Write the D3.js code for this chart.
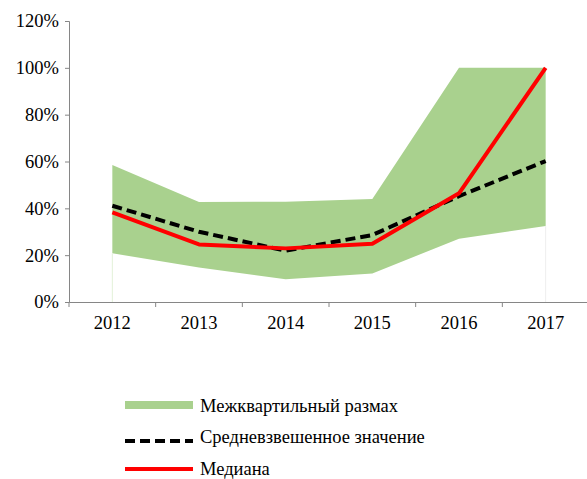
<!DOCTYPE html>
<html>
<head>
<meta charset="utf-8">
<script src="https://cdn.jsdelivr.net/npm/d3@7"></script>
<style>
  body { margin: 0; background: #fff; }
</style>
</head>
<body>
<svg id="chart" width="587" height="479"></svg>
<script>
// Years and summary statistics (share, 0..1)
const years = ["2012", "2013", "2014", "2015", "2016", "2017"];
const q1 = [0.208, 0.147, 0.097, 0.122, 0.27, 0.325];
const q3 = [0.585, 0.427, 0.428, 0.44, 1.0, 1.0];
const weightedMean = [0.411, 0.30, 0.219, 0.286, 0.452, 0.602];
const median = [0.383, 0.246, 0.229, 0.249, 0.464, 1.0];
const yTicks = [0, 0.2, 0.4, 0.6, 0.8, 1.0, 1.2];
const legendLabels = ["Межквартильный размах", "Средневзвешенное значение", "Медиана"];

const GREEN = "#a9d18e";
const FONT = '"Liberation Serif"';
const svg = d3.select("#chart");
const left = 69;

const x = d3.scaleBand().domain(years).range([left, 589]);
const y = d3.scaleLinear().domain([0, 1.2]).range([302, 21]);
const cx = d => x(d) + x.bandwidth() / 2;

// interquartile band
const band = years.map((yr, i) => ({ yr, lo: q1[i], hi: q3[i] }));
svg.append("path")
  .datum(band)
  .attr("fill", GREEN)
  .attr("d", d3.area().x(d => cx(d.yr)).y0(d => y(d.lo)).y1(d => y(d.hi)));

// faint drop lines at the band ends
[years[0], years[years.length - 1]].forEach((yr, k) => {
  const i = years.indexOf(yr);
  svg.append("line")
    .attr("x1", cx(yr)).attr("x2", cx(yr))
    .attr("y1", y(q1[i])).attr("y2", y(0))
    .attr("stroke", k === 0 ? "#e2f1d8" : "#eeeeee").attr("stroke-width", 1);
});

// axes
const yAxis = d3.axisLeft(y).tickValues(yTicks).tickFormat(d3.format(".0%")).tickSize(4).tickPadding(6);
const gy = svg.append("g").attr("transform", `translate(${left},0)`).call(yAxis);
gy.attr("font-family", null);
gy.select(".domain").attr("stroke", "#868686");
gy.selectAll(".tick line").attr("stroke", "#868686");
gy.selectAll(".tick text").style("font-family", FONT).attr("font-size", 18.5).attr("fill", "#000");

const xAxis = d3.axisBottom(x).tickSize(0).tickPadding(14);
const gx = svg.append("g").attr("transform", `translate(0,${y(0)})`).call(xAxis);
gx.attr("font-family", null);
gx.select(".domain").attr("stroke", "#868686");
gx.selectAll(".tick text").style("font-family", FONT).attr("font-size", 18.5).attr("fill", "#000");
// category boundary ticks
const bounds = years.map(yr => x(yr)).slice(1).concat([left]);
svg.append("g").selectAll("line").data(bounds).join("line")
  .attr("x1", d => d).attr("x2", d => d)
  .attr("y1", y(0)).attr("y2", y(0) + 5)
  .attr("stroke", "#868686");

// weighted mean (dashed)
const line = d3.line().x(d => cx(d.yr)).y(d => y(d.v));
svg.append("path")
  .datum(years.map((yr, i) => ({ yr, v: weightedMean[i] })))
  .attr("fill", "none").attr("stroke", "#000").attr("stroke-width", 4)
  .attr("stroke-dasharray", "10,5").attr("d", line);

// median
svg.append("path")
  .datum(years.map((yr, i) => ({ yr, v: median[i] })))
  .attr("fill", "none").attr("stroke", "#ff0000").attr("stroke-width", 4)
  .attr("stroke-linejoin", "round").attr("d", line);

// legend
const lg = svg.append("g");
const lx0 = 125, lx1 = 193, tx = 200;
lg.append("rect").attr("x", lx0).attr("y", 401).attr("width", lx1 - lx0).attr("height", 8).attr("fill", GREEN);
lg.append("line").attr("x1", lx0).attr("x2", lx1).attr("y1", 441).attr("y2", 441)
  .attr("stroke", "#000").attr("stroke-width", 4).attr("stroke-dasharray", "10,5");
lg.append("line").attr("x1", lx0).attr("x2", lx1).attr("y1", 469).attr("y2", 469)
  .attr("stroke", "#ff0000").attr("stroke-width", 4);
const ty = [412, 443, 475];
legendLabels.forEach((t, i) => {
  lg.append("text").attr("x", tx).attr("y", ty[i])
    .style("font-family", FONT).attr("font-size", 18.5).attr("fill", "#000").text(t);
});
</script>
</body>
</html>
